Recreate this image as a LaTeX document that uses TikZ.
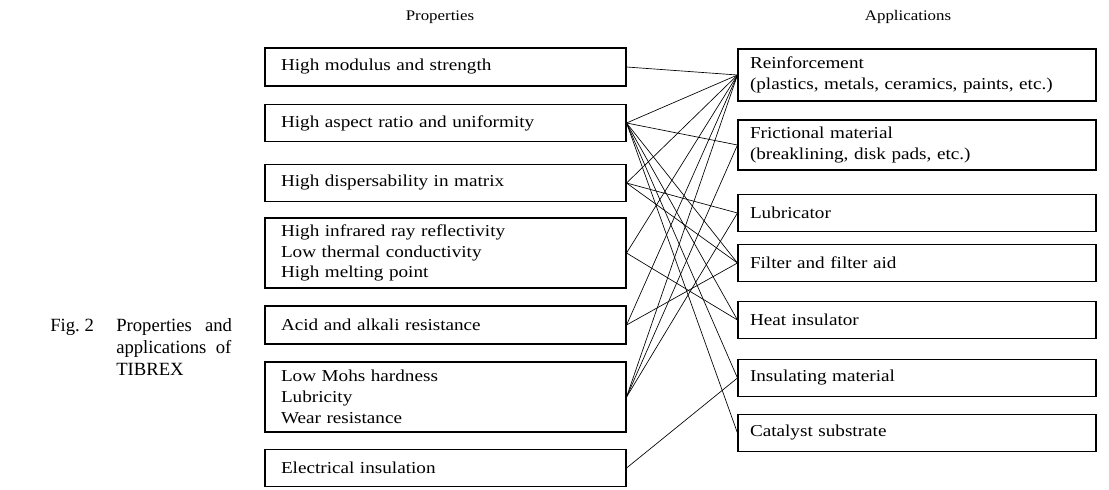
\documentclass[tikz,border=0pt]{standalone}
\usepackage{fontspec}
\setmainfont{Liberation Serif}
\newfontfamily\boxfont[FakeStretch=1.15]{Liberation Serif}
\tikzset{
  propbox/.style={draw,line width=0.8pt,align=left,inner xsep=12pt,inner ysep=0pt,
    text width=246.75pt,font=\boxfont\fontsize{12.5}{15.5}\selectfont},
  appbox/.style={draw,line width=0.8pt,align=left,inner xsep=9pt,inner ysep=0pt,
    text width=250.5pt,font=\boxfont\fontsize{12.5}{15.5}\selectfont},
  head/.style={font=\boxfont\fontsize{11}{13}\selectfont},
  caption/.style={anchor=base west,inner sep=0pt,font=\fontsize{14}{16.5}\selectfont},
  link/.style={line width=0.5pt}
}
\begin{document}
\begin{tikzpicture}[x=0.75pt,y=-0.75pt]
\useasboundingbox (0,0) rectangle (1109,489);

\node[head] (ph) at (440,17) {Properties};
\node[head] (ah) at (908,17) {Applications};

\node[propbox,minimum height=28.5pt] (p1) at (445.5,67) {High modulus and strength};
\node[propbox,minimum height=27.75pt] (p2) at (445.5,123) {High aspect ratio and uniformity};
\node[propbox,minimum height=27.75pt] (p3) at (445.5,183) {High dispersability in matrix};
\node[propbox,minimum height=52.5pt] (p4) at (445.5,253) {High infrared ray reflectivity\\Low thermal conductivity\\High melting point};
\node[propbox,minimum height=28.5pt] (p5) at (445.5,325) {Acid and alkali resistance};
\node[propbox,minimum height=52.5pt] (p6) at (445.5,397) {Low Mohs hardness\\Lubricity\\Wear resistance};
\node[propbox,minimum height=27.75pt] (p7) at (445.5,468) {Electrical insulation};

\node[appbox,minimum height=39pt] (a1) at (917,75) {Reinforcement\\(plastics, metals, ceramics, paints, etc.)};
\node[appbox,minimum height=37.5pt] (a2) at (917,145) {Frictional material\\(breaklining, disk pads, etc.)};
\node[appbox,minimum height=27.75pt] (a3) at (917,213) {Lubricator};
\node[appbox,minimum height=27.75pt] (a4) at (917,263) {Filter and filter aid};
\node[appbox,minimum height=27.75pt] (a5) at (917,320) {Heat insulator};
\node[appbox,minimum height=27.75pt] (a6) at (917,378) {Insulating material};
\node[appbox,minimum height=27.75pt] (a7) at (917,433) {Catalyst substrate};

\foreach \p/\a in {p1/a1,p2/a1,p2/a2,p2/a4,p2/a5,p2/a6,p2/a7,p3/a1,p3/a3,p3/a4,
  p4/a1,p4/a5,p5/a1,p5/a4,p6/a1,p6/a2,p6/a3,p7/a6}
  \draw[link] (\p.east) -- (\a.west);

\node[caption] (fig) at (50,331) {Fig.~2};
\node[caption] (cap1) at (116,331) {Properties\hspace{0.7em}and};
\node[caption] (cap2) at (116,353) {applications\hspace{0.5em}of};
\node[caption] (cap3) at (116,375) {TIBREX};
\end{tikzpicture}
\end{document}
